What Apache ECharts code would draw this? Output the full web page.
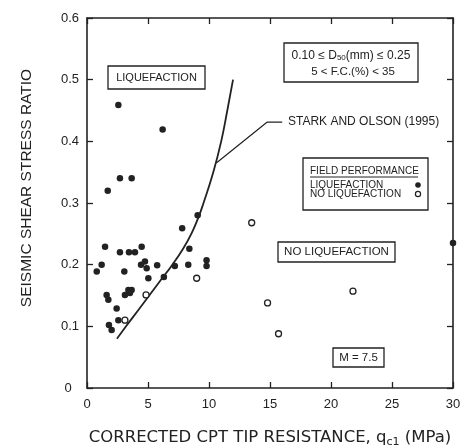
<!DOCTYPE html>
<html><head><meta charset="utf-8">
<script src="https://cdn.jsdelivr.net/npm/echarts@6/dist/echarts.min.js"></script>
<style>html,body{margin:0;padding:0;background:#fff}#c{width:462px;height:448px}</style>
</head><body><div id="c"></div>
<script>
// ---- data ----
const xTickValues = [0, 5, 10, 15, 20, 25, 30];
const yTickValues = [0, 0.1, 0.2, 0.3, 0.4, 0.5, 0.6];
const liquefaction = [
  [2.57,0.459],[6.2,0.419],[2.7,0.34],[3.66,0.34],[1.7,0.32],
  [1.48,0.229],[2.7,0.22],[3.44,0.22],[3.93,0.22],[4.48,0.229],
  [1.2,0.2],[0.8,0.189],[3.06,0.189],[4.43,0.2],[4.75,0.205],[4.89,0.194],[5.75,0.199],
  [5.03,0.178],[6.3,0.18],[1.61,0.151],[1.75,0.143],[3.11,0.151],[3.39,0.159],[3.66,0.159],[3.52,0.154],
  [2.43,0.129],[2.57,0.11],[1.8,0.102],[2.02,0.094],
  [9.07,0.28],[7.8,0.259],[8.39,0.226],[7.2,0.198],[8.3,0.2],[9.8,0.207],[9.8,0.198],
  [30,0.235]
];
const noLiquefaction = [
  [3.11,0.11],[4.84,0.151],[8.99,0.178],[13.5,0.268],[14.8,0.138],[15.7,0.088],[21.8,0.157]
];
const starkOlson = [
  [2.45,0.08],[3.2,0.1],[4.15,0.125],[5.1,0.15],[6.05,0.175],[7.0,0.2],[7.85,0.225],
  [8.55,0.25],[9.1,0.275],[9.55,0.3],[10.35,0.35],[11.0,0.4],[11.5,0.45],[11.97,0.5]
];
const leaderLine = [[10.6,0.365],[14.75,0.431],[16.0,0.431]];

const ink = '#222';
const FONT = '"Liberation Sans", Arial, sans-serif';
const WIDE = '"DejaVu Sans", sans-serif';
const chart = echarts.init(document.getElementById('c'));

function boxText(x, y, w, h, lines) {
  return [
    {type:'rect', shape:{x:x, y:y, width:w, height:h}, style:{fill:'#fff', stroke:ink, lineWidth:1.3}, z:10},
  ].concat(lines.map(l => ({
    type:'text', z:11,
    style:{text:l.t, x:l.x, y:l.y, font:(l.f||'11px ') + FONT, fill:ink,
      align:l.a||'center', verticalAlign:'middle', textAlign:l.a||'center', textVerticalAlign:'middle',
      rich:l.rich}
  })));
}

const baseAxis = {
  axisLine:{show:true, onZero:false, lineStyle:{color:ink, width:1.6}},
  axisTick:{show:true, inside:true, length:6, lineStyle:{color:ink, width:1.3}},
  splitLine:{show:false}
};

chart.setOption({
  animation:false,
  backgroundColor:'#fff',
  grid:{left:87, right:9, top:18, bottom:60, containLabel:false, outerBoundsMode:'none'},
  xAxis:[
    Object.assign({}, baseAxis, {type:'value', min:0, max:30, interval:5, position:'bottom',
      axisLabel:{color:ink, fontSize:13, fontFamily:FONT, margin:10,
        formatter:v => xTickValues.includes(v) ? String(v) : ''},
      name:'CORRECTED CPT TIP RESISTANCE, q{s|c1} (MPa)', nameLocation:'middle', nameGap:40,
      nameTextStyle:{color:ink, fontSize:16.5, fontFamily:WIDE,
        rich:{s:{fontSize:11, fontFamily:WIDE, color:ink, padding:[9,0,0,0]}}}
    }),
    Object.assign({}, baseAxis, {type:'value', min:0, max:30, interval:5, position:'top', axisLabel:{show:false}})
  ],
  yAxis:[
    Object.assign({}, baseAxis, {type:'value', min:0, max:0.6, interval:0.1, position:'left',
      axisLabel:{color:ink, fontSize:13, fontFamily:FONT, margin:8,
        formatter:v => { const t = yTickValues.find(k => Math.abs(k - v) < 1e-9); return t === undefined ? '' : (t === 0 ? '0  ' : t.toFixed(1)); }}
    }),
    Object.assign({}, baseAxis, {type:'value', min:0, max:0.6, interval:0.1, position:'right', axisLabel:{show:false}})
  ],
  series:[
    {type:'line', data:starkOlson, smooth:true, symbol:'none', lineStyle:{color:ink, width:1.8}, z:3},
    {type:'line', data:leaderLine, symbol:'none', lineStyle:{color:ink, width:1.2}, z:3},
    {type:'scatter', data:liquefaction, symbol:'circle', symbolSize:6.5, clip:false,
      itemStyle:{color:ink, opacity:1}, z:5},
    {type:'scatter', data:noLiquefaction, symbol:'circle', symbolSize:6, clip:false,
      itemStyle:{color:'#fff', borderColor:ink, borderWidth:1.3, opacity:1}, z:5}
  ],
  graphic:[].concat(
    [{type:'text', rotation:Math.PI/2, x:27, y:188, z:11,
      style:{text:'SEISMIC SHEAR STRESS RATIO', font:'15.5px ' + FONT, fill:ink,
        align:'center', verticalAlign:'middle', textAlign:'center', textVerticalAlign:'middle'}}],
    boxText(108, 66, 97, 23, [{t:'LIQUEFACTION', x:156.5, y:77.5}]),
    boxText(284, 43, 134, 39, [
      {t:'0.10 \u2264 D{s|50}(mm) \u2264 0.25', x:351, y:55.5, f:'12px ', rich:{s:{fontSize:8, fontFamily:FONT, fill:ink, padding:[5,0,0,0]}}},
      {t:'5 < F.C.(%) < 35', x:353, y:71.5, f:'11.5px '}
    ]),
    [{type:'text', z:11, style:{text:'STARK AND OLSON (1995)', x:288, y:122, font:'12px ' + FONT, fill:ink,
      align:'left', verticalAlign:'middle', textAlign:'left', textVerticalAlign:'middle'}}],
    boxText(303, 158, 125, 52, [
      {t:'FIELD PERFORMANCE', x:310, y:171, a:'left', f:'10px '},
      {t:'LIQUEFACTION', x:310, y:185, a:'left', f:'10px '},
      {t:'NO LIQUEFACTION', x:310, y:194, a:'left', f:'10px '}
    ]),
    [
      {type:'line', z:11, shape:{x1:310, y1:177, x2:418, y2:177}, style:{stroke:ink, lineWidth:1}},
      {type:'circle', z:11, shape:{cx:418, cy:185, r:2.8}, style:{fill:ink}},
      {type:'circle', z:11, shape:{cx:418, cy:194, r:2.6}, style:{fill:'#fff', stroke:ink, lineWidth:1.2}}
    ],
    boxText(278, 242, 117, 20, [{t:'NO LIQUEFACTION', x:336.5, y:252, f:'11.5px '}]),
    boxText(333, 348, 51, 19, [{t:'M = 7.5', x:358.5, y:357.5, f:'11.5px '}])
  )
});
</script>
</body></html>
